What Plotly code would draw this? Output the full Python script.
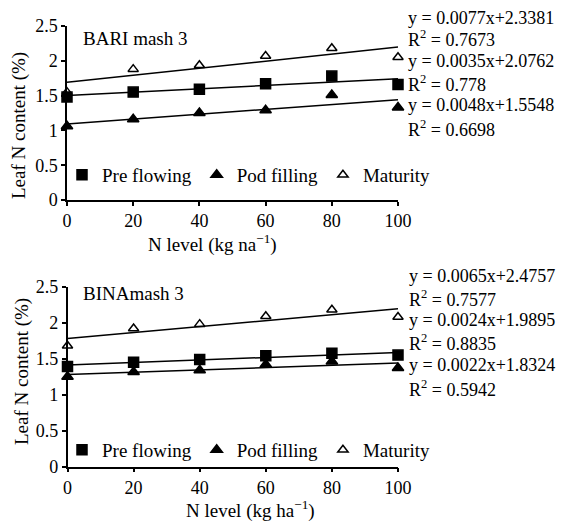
import numpy as np
import plotly.graph_objects as go

n_levels = [0, 20, 40, 60, 80, 100]
series_names = ["Pre flowing", "Pod filling", "Maturity"]

bari_pre = [1.48, 1.55, 1.59, 1.67, 1.78, 1.66]
bari_pod = [1.06, 1.16, 1.25, 1.29, 1.51, 1.33]
bari_mat = [1.55, 1.88, 1.935, 2.07, 2.18, 2.05]

bina_pre = [1.39, 1.45, 1.49, 1.54, 1.575, 1.55]
bina_pod = [1.25, 1.315, 1.34, 1.42, 1.46, 1.37]
bina_mat = [1.68, 1.92, 1.98, 2.09, 2.18, 2.08]

bari_eq = ["y = 0.0077x+2.3381", "R<sup>2</sup> = 0.7673",
           "y = 0.0035x+2.0762", "R<sup>2</sup> = 0.778",
           "y = 0.0048x+1.5548", "R<sup>2</sup> = 0.6698"]
bina_eq = ["y = 0.0065x+2.4757", "R<sup>2</sup> = 0.7577",
           "y = 0.0024x+1.9895", "R<sup>2</sup> = 0.8835",
           "y = 0.0022x+1.8324", "R<sup>2</sup> = 0.5942"]

FONT = "Liberation Serif, Times New Roman, serif"
OFF = 8                      # page body margin in the browser
W, H = 569 - OFF, 523 - OFF

def px(xp):
    return (xp - OFF) / W

def py(yp):
    return (H - (yp - OFF)) / H

fig = go.Figure()

symbols = ["square", "triangle-up", "triangle-up-open"]
sizes = [10, 10, 9]

panels = [
    ("x", "y", "legend", [bari_pre, bari_pod, bari_mat]),
    ("x2", "y2", "legend2", [bina_pre, bina_pod, bina_mat]),
]

for xa, ya, lg, data in panels:
    for name, vals, sym, sz in zip(series_names, data, symbols, sizes):
        fig.add_trace(go.Scatter(
            x=n_levels, y=vals, mode="markers", name=name,
            marker=dict(symbol=sym, size=sz, color="black",
                        line=dict(color="black", width=1.5)),
            cliponaxis=False,
            xaxis=xa, yaxis=ya, legend=lg, showlegend=True))
    for vals in data:
        k, b = np.polyfit(n_levels, vals, 1)
        xs = [n_levels[0], n_levels[-1]]
        fig.add_trace(go.Scatter(
            x=xs, y=[b + k * v for v in xs], mode="lines",
            line=dict(color="black", width=1.5), cliponaxis=False,
            xaxis=xa, yaxis=ya, showlegend=False, hoverinfo="skip"))

axis_common = dict(showline=True, linecolor="black", linewidth=1.5,
                   ticks="outside", ticklen=4, tickwidth=1.5, tickcolor="black",
                   showgrid=False, zeroline=False,
                   tickfont=dict(family=FONT, size=18, color="black"))

leg_font = dict(family=FONT, size=19, color="black")

fig.update_layout(
    width=W, height=H,
    margin=dict(l=0, r=0, t=0, b=0, autoexpand=False),
    paper_bgcolor="white", plot_bgcolor="white",
    font=dict(family=FONT, size=18, color="black"),
    xaxis=dict(domain=[px(67), px(398)], range=[0, 100], dtick=20,
               anchor="y", **axis_common),
    yaxis=dict(domain=[py(200), py(26)], range=[0, 2.5], dtick=0.5,
               anchor="x", **axis_common),
    xaxis2=dict(domain=[px(67.5), px(398)], range=[0, 100], dtick=20,
                anchor="y2", **axis_common),
    yaxis2=dict(domain=[py(466.7), py(286.7)], range=[0, 2.5], dtick=0.5,
                anchor="x2", **axis_common),
    legend=dict(orientation="h", x=px(62), y=py(175), xanchor="left",
                yanchor="middle", bgcolor="rgba(0,0,0,0)", itemwidth=30,
                font=leg_font),
    legend2=dict(orientation="h", x=px(62), y=py(450), xanchor="left",
                 yanchor="middle", bgcolor="rgba(0,0,0,0)", itemwidth=30,
                 font=leg_font),
)

ann = []
ann.append(dict(text="BARI mash 3", x=px(82), y=py(39), xanchor="left",
                yanchor="middle", size=19))
ann.append(dict(text="BINAmash 3", x=px(82), y=py(293), xanchor="left",
                yanchor="middle", size=19))
ann.append(dict(text="Leaf N content (%)", x=px(19), y=py(126), textangle=-90,
                xanchor="center", yanchor="middle", size=19))
ann.append(dict(text="Leaf N content (%)", x=px(22), y=py(372), textangle=-90,
                xanchor="center", yanchor="middle", size=19))
ann.append(dict(text="N level (kg na<sup>\u22121</sup>)", x=px(212), y=py(243),
                xanchor="center", yanchor="middle", size=19))
ann.append(dict(text="N level (kg ha<sup>\u22121</sup>)", x=px(250), y=py(509),
                xanchor="center", yanchor="middle", size=19))

top_eq_y = [18, 39, 61, 83, 105, 128]
bot_eq_y = [276, 298, 320, 343, 365, 388]
for t, yy in zip(bari_eq, top_eq_y):
    ann.append(dict(text=t, x=px(407), y=py(yy), xanchor="left",
                    yanchor="middle", size=18))
for t, yy in zip(bina_eq, bot_eq_y):
    ann.append(dict(text=t, x=px(408), y=py(yy), xanchor="left",
                    yanchor="middle", size=18))

final = []
for a in ann:
    s = a.pop("size")
    a.update(xref="paper", yref="paper", showarrow=False, borderpad=0,
             font=dict(family=FONT, size=s, color="black"))
    final.append(a)
fig.update_layout(annotations=final)

fig.write_html("out.html")
